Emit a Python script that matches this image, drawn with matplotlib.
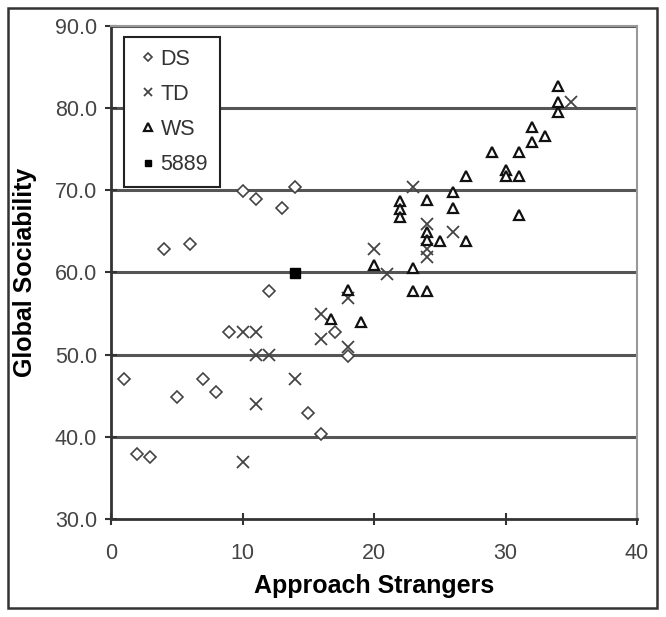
import matplotlib.pyplot as plt
from matplotlib.patches import Rectangle

plt.rcParams['font.family'] = ['Liberation Sans', 'DejaVu Sans']

# DS group
ds_x = [1, 2, 3, 4, 5, 6, 7, 8, 9, 10, 11, 12, 13, 14, 15, 16, 17, 18]
ds_y = [47.0, 37.9, 37.6, 62.9, 44.9, 63.5, 47.0, 45.4, 52.8, 69.9, 68.9, 57.8, 67.9, 70.4, 42.9, 40.3, 52.8, 49.8]

# TD group
td_x = [10, 10, 11, 11, 12, 11, 14, 16, 16, 18, 18, 20, 21, 23, 24, 24, 24, 26, 35]
td_y = [36.9, 52.8, 52.8, 49.9, 49.9, 44.0, 47.0, 54.9, 51.9, 50.9, 56.9, 62.8, 59.8, 70.4, 65.9, 62.8, 61.9, 64.9, 80.7]

# WS group
ws_x = [16.7, 18, 19, 20, 22, 22, 22, 23, 23, 24, 24, 24, 24, 25, 26, 26, 27, 27,
        29, 30, 30, 31, 31, 31, 32, 32, 33, 34, 34, 34]
ws_y = [54.3, 57.9, 54.0, 60.9, 68.7, 67.7, 66.8, 60.5, 57.7, 57.7, 68.8, 64.9, 63.9, 63.8, 69.8, 67.8, 71.7, 63.8,
        74.7, 72.5, 71.7, 71.7, 74.7, 67.0, 77.7, 75.9, 76.6, 82.7, 80.8, 79.5]

# single case
case_x = [14]
case_y = [59.9]

fig = plt.figure(figsize=(6.66, 6.17), dpi=100)
ax = fig.add_axes([0.1667, 0.1588, 0.7898, 0.7991])

ax.set_xlim(0, 40)
ax.set_ylim(30, 90)
ax.set_xticks([0, 10, 20, 30, 40])
ax.set_yticks([30, 40, 50, 60, 70, 80, 90])
ax.set_yticklabels(['%.1f' % v for v in [30, 40, 50, 60, 70, 80, 90]])

for v in [40, 50, 60, 70, 80, 90]:
    ax.axhline(v, color='#555555', lw=2.2, zorder=1)

ax.plot(ds_x, ds_y, ls='none', marker='D', ms=6, mfc='white', mec='#444444', mew=1.2,
        label='DS', zorder=3)
ax.plot(td_x, td_y, ls='none', marker='x', ms=8.5, mec='#444444', mew=1.3,
        label='TD', zorder=3)
ax.plot(ws_x, ws_y, ls='none', marker='^', ms=7.5, mfc='white', mec='#111111', mew=1.6,
        label='WS', zorder=3)
ax.plot(case_x, case_y, ls='none', marker='s', ms=6.5, mfc='black', mec='black',
        label='5889', zorder=4)

for s in ['top', 'right']:
    ax.spines[s].set_color('#999999')
    ax.spines[s].set_linewidth(1.5)
for s in ['left', 'bottom']:
    ax.spines[s].set_color('#333333')
    ax.spines[s].set_linewidth(2)

ax.tick_params(direction='inout', length=8, width=1.5, color='#333333',
               labelsize=15.5, labelcolor='#444444')
ax.tick_params(axis='x', pad=13)
ax.tick_params(axis='y', pad=6)
ax.set_xlabel('Approach Strangers', fontsize=18, fontweight='bold')
ax.set_ylabel('Global Sociability', fontsize=18, fontweight='bold')
ax.xaxis.set_label_coords(0.5, -0.112)
ax.yaxis.set_label_coords(-0.14, 0.5)

leg = ax.legend(loc='upper left', bbox_to_anchor=(0.004, 1.0), fontsize=15.5,
                labelspacing=0.66, handletextpad=0.05, handlelength=1.1,
                borderpad=0.55, fancybox=False, framealpha=1, markerscale=0.7)
leg.get_frame().set_edgecolor('#222222')
leg.get_frame().set_linewidth(1.5)
for t in leg.get_texts():
    t.set_color('#333333')

fig.patches.append(Rectangle((0.012, 0.015), 0.975, 0.972, transform=fig.transFigure,
                             fill=False, ec='#333333', lw=1.8))

fig.savefig('out.png', dpi=100)
